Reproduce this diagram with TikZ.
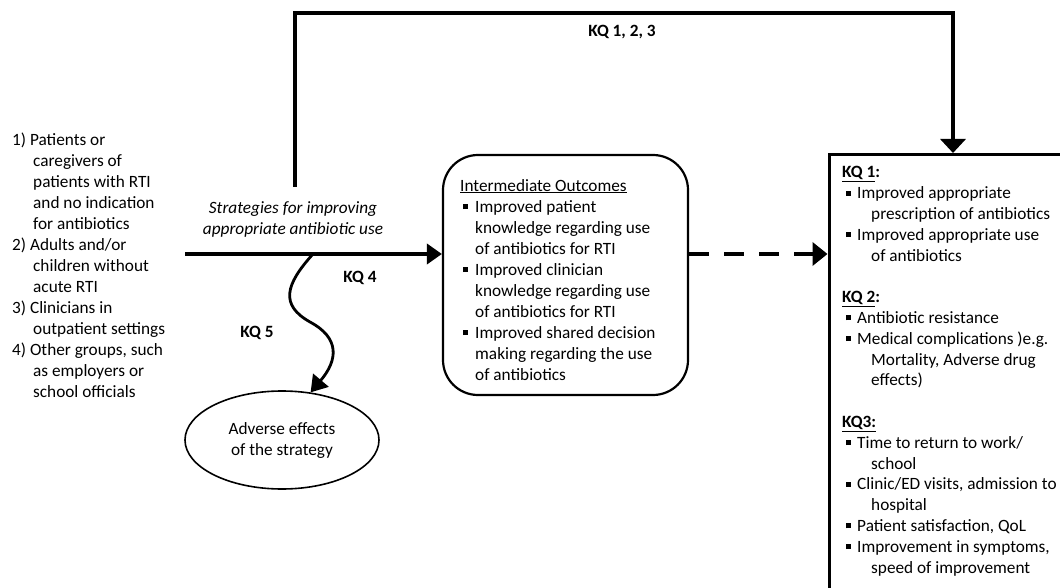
\documentclass[tikz,border=0pt]{standalone}
\usepackage{fontspec}
\setmainfont{Carlito}
\usetikzlibrary{arrows.meta,shapes.geometric}
\newcommand{\sqb}{\rule[3pt]{5pt}{5pt}}
\newcommand{\kqbul}[1]{\hspace*{4pt}\sqb\hspace{6pt}#1}
\newcommand{\kqcont}[1]{\hspace*{29pt}#1}
\newcommand{\imbul}[1]{\hspace*{3pt}\sqb\hspace{7pt}#1}
\newcommand{\imcont}[1]{\hspace*{15pt}#1}
\newcommand{\popcont}[1]{\hspace*{21pt}#1}

\begin{document}
\begin{tikzpicture}[x=1pt,y=-1pt,font=\fontsize{17.25}{21}\selectfont,
  lbl/.style={inner sep=0pt,align=left},
  heavy/.style={line width=4pt},
  midbox/.style={draw,rounded corners=35pt,line width=2.2pt,minimum width=245pt,minimum height=240pt},
  outbox/.style={draw,line width=3pt,minimum width=248pt,minimum height=460pt,anchor=north}]
\useasboundingbox (0,0) rectangle (1060,588);
\node [lbl, anchor=base west] (popul) at (12,397) {1) Patients or\\
\popcont{caregivers of}\\
\popcont{patients with RTI}\\
\popcont{and no indication}\\
\popcont{for antibiotics}\\
2) Adults and/or\\
\popcont{children without}\\
\popcont{acute RTI}\\
3) Clinicians in\\
\popcont{outpatient settings}\\
4) Other groups, such\\
\popcont{as employers or}\\
\popcont{school officials}};
\node [lbl, align=center, anchor=base] (strat) at (293,235) {\itshape Strategies for improving\\\itshape appropriate antibiotic use};
\node [midbox] (interm) at (565.5,275) {};
\node [lbl, anchor=base west] (intermtxt) at (460,380) {\underline{Intermediate Outcomes}\\
\imbul{Improved patient}\\
\imcont{knowledge regarding use}\\
\imcont{of antibiotics for RTI}\\
\imbul{Improved clinician}\\
\imcont{knowledge regarding use}\\
\imcont{of antibiotics for RTI}\\
\imbul{Improved shared decision}\\
\imcont{making regarding the use}\\
\imcont{of antibiotics}};
\node [outbox] (outc) at (953,153) {};
\node [lbl, anchor=base west, font=\fontsize{17.25}{20.8}\selectfont] (outctxt) at (842,573) {\textbf{\underline{KQ 1}:}\\
\kqbul{Improved appropriate}\\
\kqcont{prescription of antibiotics}\\
\kqbul{Improved appropriate use}\\
\kqcont{of antibiotics}\\[20.8pt]
\textbf{\underline{KQ 2}:}\\
\kqbul{Antibiotic resistance}\\
\kqbul{Medical complications )e.g.}\\
\kqcont{Mortality, Adverse drug}\\
\kqcont{effects)}\\[20.8pt]
\textbf{\underline{KQ3:}}\\
\kqbul{Time to return to work/}\\
\kqcont{school}\\
\kqbul{Clinic/ED visits, admission to}\\
\kqcont{hospital}\\
\kqbul{Patient satisfaction, QoL}\\
\kqbul{Improvement in symptoms,}\\
\kqcont{speed of improvement}};
\node [ellipse, draw, line width=1.6pt, minimum width=194pt, minimum height=98pt, align=center, inner sep=0pt] (adverse) at (282,440) {Adverse effects\\of the strategy};
\node [lbl, anchor=base] (kqall) at (622,37) {\textbf{KQ 1, 2, 3}};
\node [lbl, anchor=base] (kqfour) at (360,282) {\textbf{KQ 4}};
\node [lbl, anchor=base] (kqfive) at (257,337) {\textbf{KQ 5}};
\coordinate (lineStart) at (185,254);
\coordinate (loopStart) at (295,187);
\coordinate (waveStart) at (313,254);
\draw [heavy, -{Triangle[length=15pt,width=20pt]}] (lineStart) -- (lineStart -| interm.west);
\draw [heavy, -{Triangle[length=14pt,width=25pt]}] (loopStart) -- ++(0,-174) -| (outc.north);
\draw [heavy, dash pattern=on 20pt off 15pt, -{Triangle[length=15pt,width=23pt]}] (interm.east |- lineStart) -- (outc.west |- lineStart);
\draw [line width=2.8pt, -{Triangle[length=16pt,width=20pt]}] (waveStart) .. controls (285,285) and (280,305) .. (310,322) .. controls (340,338) and (338,360) .. (adverse.59);
\end{tikzpicture}
\end{document}
